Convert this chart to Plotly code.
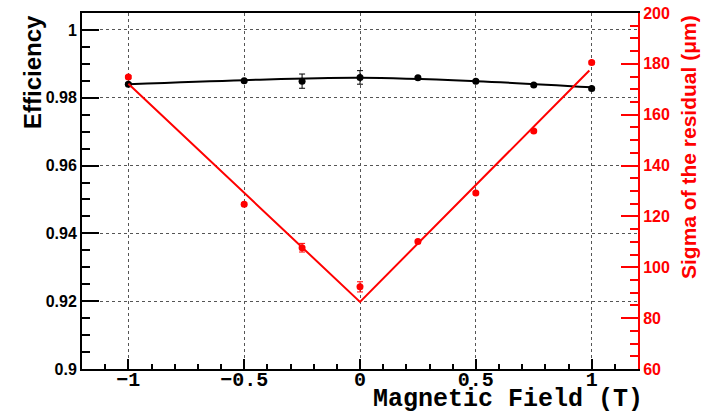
import plotly.graph_objects as go

# Data
field = [-1.0, -0.5, -0.25, 0.0, 0.25, 0.5, 0.75, 1.0]
efficiency = [0.9840, 0.9850, 0.9849, 0.9860, 0.9859, 0.9849, 0.9838, 0.9827]
eff_err = [0.0004, 0.0004, 0.0021, 0.0020, 0.0004, 0.0004, 0.0004, 0.0004]
sigma = [174.8, 124.8, 107.7, 92.3, 110.1, 129.2, 153.6, 180.5]
sigma_err = [0.6, 0.6, 1.7, 2.0, 0.6, 0.6, 0.6, 0.6]

eff_fit_x = [-1.0, -0.5, 0.0, 0.5, 1.0]
eff_fit_y = [0.9840, 0.9852, 0.9859, 0.9849, 0.9831]
sig_fit_x = [-1.0, 0.0, 0.99]
sig_fit_y = [172.2, 86.4, 177.4]

RED = "#ff0000"
HELV = "Liberation Sans"
COUR = "Liberation Mono"

fig = go.Figure()

fig.add_trace(go.Scatter(x=eff_fit_x, y=eff_fit_y, mode="lines",
                         line=dict(color="black", width=2, shape="spline"),
                         showlegend=False, yaxis="y"))
fig.add_trace(go.Scatter(x=field, y=efficiency, mode="markers",
                         marker=dict(color="black", size=7),
                         error_y=dict(type="data", array=eff_err, color="black",
                                      thickness=1, width=3),
                         showlegend=False, yaxis="y"))
fig.add_trace(go.Scatter(x=sig_fit_x, y=sig_fit_y, mode="lines",
                         line=dict(color=RED, width=2),
                         showlegend=False, yaxis="y2"))
fig.add_trace(go.Scatter(x=field, y=sigma, mode="markers",
                         marker=dict(color=RED, size=7),
                         error_y=dict(type="data", array=sigma_err, color=RED,
                                      thickness=1, width=3),
                         showlegend=False, yaxis="y2"))

fig.update_layout(
    width=713, height=414,
    margin=dict(l=82, r=75, t=13, b=45, pad=0, autoexpand=False),
    paper_bgcolor="white", plot_bgcolor="white",
    xaxis=dict(
        range=[-1.2, 1.2], tick0=0, dtick=0.5, automargin=False,
        ticks="inside", ticklen=10, tickwidth=1.5, tickcolor="black",
        showline=True, linecolor="black", linewidth=2, mirror=True,
        showgrid=True, gridcolor="#555555", griddash="dot", gridwidth=1,
        zeroline=False, ticklabelstandoff=-9,
        tickfont=dict(family=COUR, size=20, color="black", weight="bold"),
        minor=dict(dtick=0.1, tick0=0, ticks="inside", ticklen=5,
                   tickcolor="black", tickwidth=1.5, showgrid=False),
    ),
    yaxis=dict(
        range=[0.9, 1.005], tick0=0.9, dtick=0.02, tickformat=".2~f",
        automargin=False,
        ticks="inside", ticklen=17, tickwidth=1.5, tickcolor="black",
        showline=True, linecolor="black", linewidth=2,
        showgrid=True, gridcolor="#555555", griddash="dot", gridwidth=1,
        zeroline=False,
        tickfont=dict(family=HELV, size=16, color="black", weight="bold"),
        minor=dict(dtick=0.005, tick0=0.9, ticks="inside", ticklen=8,
                   tickcolor="black", tickwidth=1.5, showgrid=False),
    ),
    yaxis2=dict(
        range=[60, 200], tick0=60, dtick=20, overlaying="y", side="right",
        automargin=False,
        ticks="inside", ticklen=17, tickwidth=1.5, tickcolor=RED,
        showline=True, linecolor=RED, linewidth=2,
        showgrid=False, zeroline=False,
        tickfont=dict(family=HELV, size=16, color=RED, weight="bold"),
        minor=dict(dtick=5, tick0=60, ticks="inside", ticklen=8,
                   tickcolor=RED, tickwidth=1.5, showgrid=False),
    ),
    annotations=[
        dict(text="Efficiency", xref="paper", yref="paper", x=-0.09, y=1,
             xanchor="center", yanchor="top", textangle=-90, showarrow=False,
             font=dict(family=HELV, size=24, color="black", weight="bold")),
        dict(text="Sigma of the residual (μm)", xref="paper", yref="paper",
             x=1.09, y=1, xanchor="center", yanchor="top", textangle=-90,
             showarrow=False,
             font=dict(family=HELV, size=21, color=RED, weight="bold")),
        dict(text="Magnetic Field (T)", xref="paper", yref="paper",
             x=1.012, y=-0.087, xanchor="right", yanchor="middle", showarrow=False,
             font=dict(family=COUR, size=25, color="black", weight="bold")),
    ],
)

fig.write_html("out.html")
